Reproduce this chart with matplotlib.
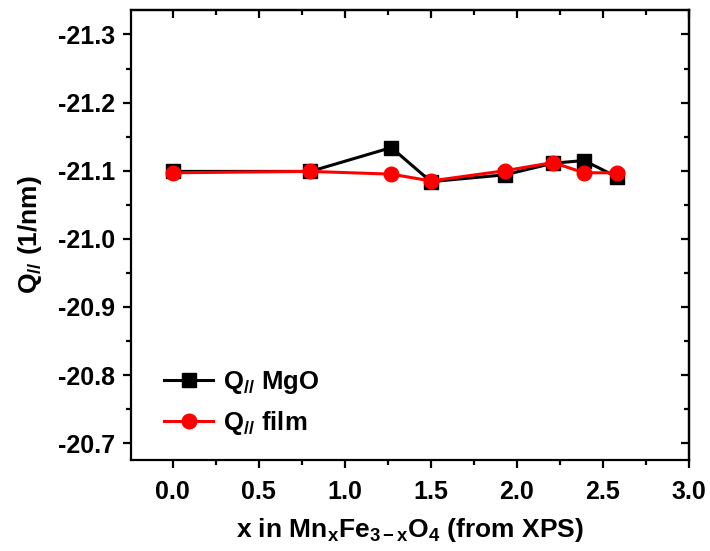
import matplotlib
matplotlib.use("Agg")
import matplotlib.pyplot as plt
from matplotlib.ticker import MultipleLocator

plt.rcParams['font.family'] = ['Liberation Sans', 'DejaVu Sans']
plt.rcParams['font.weight'] = 'bold'
plt.rcParams['mathtext.fontset'] = 'custom'
plt.rcParams['mathtext.rm'] = 'Liberation Sans:bold'
plt.rcParams['mathtext.bf'] = 'Liberation Sans:bold'
plt.rcParams['mathtext.it'] = 'Liberation Sans:bold:italic'

# Mn content from XPS
x_mn = [0.0, 0.80, 1.27, 1.50, 1.93, 2.21, 2.39, 2.58]
# In-plane scattering vector (1/nm)
q_mgo = [-21.099, -21.099, -21.134, -21.084, -21.094, -21.111, -21.115, -21.091]
q_film = [-21.097, -21.099, -21.095, -21.085, -21.100, -21.112, -21.097, -21.097]

fig = plt.figure(figsize=(7.10, 5.51), dpi=100)
ax = fig.add_axes([0.1845, 0.166, 0.7859, 0.8159])

ax.plot(x_mn, q_mgo, color='black', lw=2.2, marker='s', ms=10,
        label='Q$_{//}$ MgO')
ax.plot(x_mn, q_film, color='red', lw=2.2, marker='o', ms=10.5,
        label='Q$_{//}$ film')

ax.set_xlim(-0.243, 3.0)
ax.set_ylim(-20.676, -21.336)

ax.xaxis.set_major_locator(MultipleLocator(0.5))
ax.xaxis.set_minor_locator(MultipleLocator(0.25))
ax.yaxis.set_major_locator(MultipleLocator(0.1))
ax.yaxis.set_minor_locator(MultipleLocator(0.05))
ax.xaxis.set_major_formatter(plt.FormatStrFormatter('%.1f'))
ax.yaxis.set_major_formatter(plt.FormatStrFormatter('%.1f'))

for sp in ax.spines.values():
    sp.set_linewidth(1.6)

ax.tick_params(which='both', direction='out', width=1.6, labelsize=18,
               top=False, right=False)
ax.tick_params(axis='x', pad=9)
ax.tick_params(axis='y', pad=6)
ax.tick_params(which='major', length=5.5)
ax.tick_params(which='minor', length=3.5)

# mirrored inward ticks on top and right
axt = ax.secondary_xaxis('top')
axt.xaxis.set_major_locator(MultipleLocator(0.5))
axt.xaxis.set_minor_locator(MultipleLocator(0.25))
axt.tick_params(which='both', direction='in', width=1.6, labeltop=False)
axt.tick_params(which='major', length=5.5)
axt.tick_params(which='minor', length=3.5)
axr = ax.secondary_yaxis('right')
axr.yaxis.set_major_locator(MultipleLocator(0.1))
axr.yaxis.set_minor_locator(MultipleLocator(0.05))
axr.tick_params(which='both', direction='in', width=1.6, labelright=False)
axr.tick_params(which='major', length=5.5)
axr.tick_params(which='minor', length=3.5)
axt.spines['top'].set_linewidth(1.6)
axr.spines['right'].set_linewidth(1.6)

for lab in ax.get_xticklabels() + ax.get_yticklabels():
    lab.set_fontweight('bold')

ax.set_xlabel('x in Mn$_{\\mathrm{x}}$Fe$_{\\mathrm{3-x}}$O$_{\\mathrm{4}}$ (from XPS)',
              fontsize=19, fontweight='bold', labelpad=9)
ax.set_ylabel('Q$_{//}$ (1/nm)', fontsize=19, fontweight='bold', labelpad=10)

ax.legend(loc='lower left', bbox_to_anchor=(0.018, -0.002), frameon=False,
          handlelength=1.9, handletextpad=0.4, labelspacing=0.5,
          prop={'weight': 'bold', 'size': 18.5})

fig.savefig('out.png', dpi=100)
